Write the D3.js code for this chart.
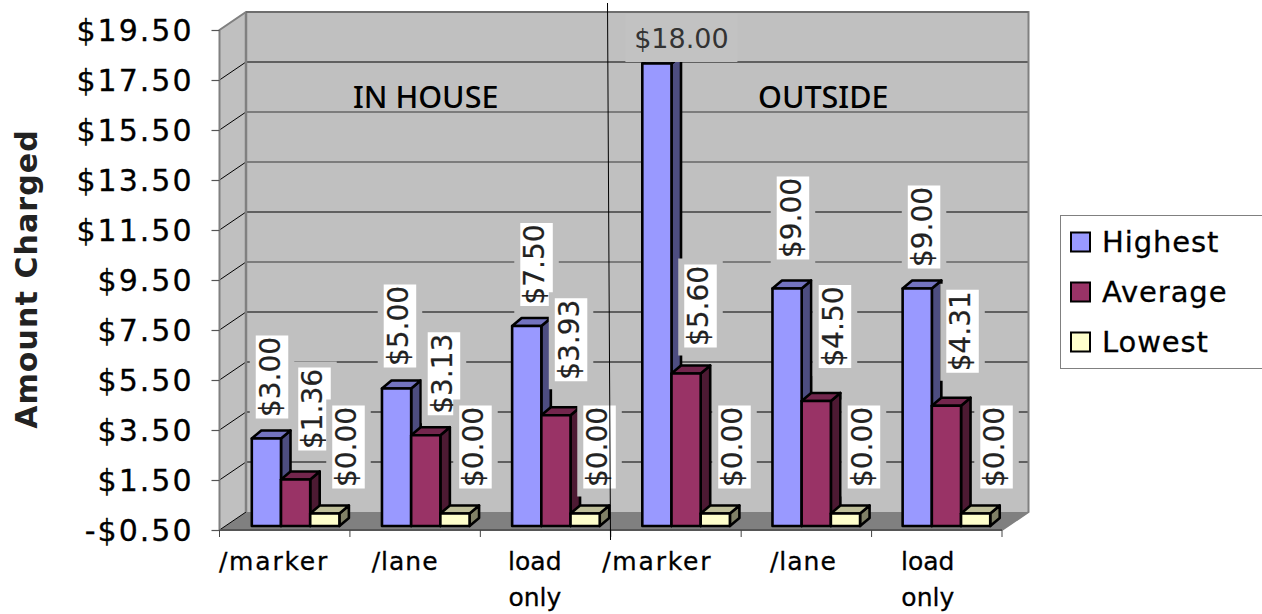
<!DOCTYPE html>
<html>
<head>
<meta charset="utf-8">
<script src="https://cdn.jsdelivr.net/npm/d3@7"></script>
<style>
  html, body { margin: 0; padding: 0; background: #fff; overflow: hidden; }
  svg { display: block; font-family: "DejaVu Sans", sans-serif; }
  .section-title { font-family: "Noto Sans", sans-serif; font-size: 30.5px; font-weight: 500; fill: #000; }
</style>
</head>
<body>
<svg id="chart" width="1262" height="614"></svg>
<script>
const categories = ['/marker', '/lane', 'load only', '/marker', '/lane', 'load only'];
const seriesNames = ['Highest', 'Average', 'Lowest'];
const highest = [3.00, 5.00, 7.50, 18.00, 9.00, 9.00];
const average = [1.36, 3.13, 3.93, 5.60, 4.50, 4.31];
const lowest = [0, 0, 0, 0, 0, 0];
const yTicks = [19.5, 17.5, 15.5, 13.5, 11.5, 9.5, 7.5, 5.5, 3.5, 1.5, -0.5];
const sections = ['IN HOUSE', 'OUTSIDE'];

// label placement per series: sideways shift from the bar centre, lift above the bar top
const labelShift = [
  [5.6, 3.4, 9.8, 24.5, 5.9, 6.8],
  [18.9, 18.2, 15.1, 14.4, 18.7, 16.1],
  [23.7, 20.5, 14.4, 19.2, 18.5, 20.9]
];
const labelLift = [
  [20, 21, 20, 0, 29, 20],
  [29, 20, 34, 26, 33, 33],
  [25, 25, 25, 25, 25, 25]
];
const categoryShift = [-10.7, -10, -10.7, -18.7, -3, -9];
const dimGridValues = [19.5, 15.5, 13.5, 9.5, -0.5];

const faces = {
  Highest: {front: '#9999ff', top: '#7373bf', side: '#4d4d80'},
  Average: {front: '#993366', top: '#73264d', side: '#4d1a33'},
  Lowest: {front: '#ffffcc', top: '#bfbf99', side: '#808066'}
};

const seriesValues = [highest, average, lowest];

// box depth of the whole plot, and of a single bar
const depth = {x: 26.5, y: 18};
const barDepth = {x: 9.5, y: 8};
const barInset = 4; // bars stand a little behind the front edge of the floor

const svg = d3.select('#chart');

const yScale = d3.scaleLinear().domain([-0.5, 19.5]).range([530, 30]);
const axisBand = d3.scaleBand().domain(d3.range(categories.length)).range([219.5, 1002]);
const groupBand = d3.scaleBand().domain(d3.range(categories.length)).range([219.5, 1000.5]);
const barBand = d3.scaleBand().domain(seriesNames).range([32.3, 32.3 + 87.6]);

const left = axisBand.range()[0];
const right = axisBand.range()[1];
const yBottom = yScale.range()[0];
const yTop = yScale.range()[1];
const polygon = pts => pts.map(p => p.join(',')).join(' ');

// walls and floor
const walls = svg.append('g');
walls.append('polygon')
    .attr('points', polygon([[left + depth.x, yTop - depth.y], [right + depth.x, yTop - depth.y],
      [right + depth.x, yBottom - depth.y], [left + depth.x, yBottom - depth.y]]))
    .attr('fill', '#c0c0c0');
walls.append('polygon')
    .attr('points', polygon([[left, yTop], [left + depth.x, yTop - depth.y],
      [left + depth.x, yBottom - depth.y], [left, yBottom]]))
    .attr('fill', '#c0c0c0');
walls.append('polygon')
    .attr('points', polygon([[left, yBottom], [left + depth.x, yBottom - depth.y],
      [right + depth.x, yBottom - depth.y], [right, yBottom]]))
    .attr('fill', '#808080');

// gridlines run along the back wall and bend forward over the side wall
const gridG = svg.append('g').attr('fill', 'none');
gridG.selectAll('.grid-back')
    .data(yTicks.filter(d => d > -0.5))
  .join('line')
    .attr('class', 'grid-back')
    .attr('x1', left + depth.x)
    .attr('x2', right + depth.x)
    .attr('y1', d => yScale(d) - depth.y)
    .attr('y2', d => yScale(d) - depth.y)
    .attr('stroke', d => dimGridValues.includes(d) ? '#666' : '#000')
    .attr('stroke-width', d => dimGridValues.includes(d) ? 1.6 : 1);
gridG.selectAll('.grid-side')
    .data(yTicks.filter(d => d < 19.5))
  .join('line')
    .attr('class', 'grid-side')
    .attr('x1', left)
    .attr('x2', left + depth.x)
    .attr('y1', d => yScale(d))
    .attr('y2', d => yScale(d) - depth.y)
    .attr('stroke', '#000')
    .attr('stroke-width', 1);

// wall outlines
gridG.append('polyline')
    .attr('points', polygon([[left, yBottom], [left, yTop], [left + depth.x, yTop - depth.y],
      [right + depth.x, yTop - depth.y], [right + depth.x, yBottom - depth.y], [right, yBottom]]))
    .attr('stroke', '#808080')
    .attr('stroke-width', 2);
gridG.append('line')
    .attr('x1', left + depth.x).attr('x2', left + depth.x)
    .attr('y1', yTop - depth.y).attr('y2', yBottom - depth.y)
    .attr('stroke', '#808080')
    .attr('stroke-width', 2.5);
gridG.append('line')
    .attr('x1', left + depth.x).attr('x2', right + depth.x)
    .attr('y1', yTop - depth.y).attr('y2', yTop - depth.y)
    .attr('stroke', '#6e6e6e')
    .attr('stroke-width', 2);

// value axis; plain hyphen on the negative tick
const format = d => d3.format('$.2f')(d).replace('\u2212', '-');
const yAxis = d3.axisLeft(yScale)
    .tickValues(yTicks)
    .tickFormat(format)
    .tickSize(8)
    .tickPadding(18);
const yAxisG = svg.append('g')
    .attr('transform', `translate(${left},0)`)
    .call(yAxis);
yAxisG.select('.domain').remove();
yAxisG.selectAll('line').attr('stroke', '#555').attr('stroke-width', 1.2);
yAxisG.selectAll('text')
    .attr('font-family', '"DejaVu Sans", sans-serif')
    .attr('font-size', 30)
    .attr('letter-spacing', 2)
    .attr('dy', '0.36em')
    .attr('fill', '#000')
    .attr('stroke', '#000')
    .attr('stroke-width', 0.3);

// front edge of the floor with ticks between the categories
svg.append('line')
    .attr('x1', left).attr('x2', right)
    .attr('y1', yBottom).attr('y2', yBottom)
    .attr('stroke', '#555')
    .attr('stroke-width', 2);
svg.selectAll('.cat-tick')
    .data(d3.range(categories.length + 1))
  .join('line')
    .attr('class', 'cat-tick')
    .attr('x1', d => left + d * axisBand.step())
    .attr('x2', d => left + d * axisBand.step())
    .attr('y1', yBottom)
    .attr('y2', yBottom + 7)
    .attr('stroke', '#444')
    .attr('stroke-width', 1);

// category names, wrapped on spaces
const catLabels = svg.selectAll('.cat-label')
    .data(categories)
  .join('text')
    .attr('class', 'cat-label')
    .attr('font-size', 25)
    .attr('fill', '#000')
    .attr('stroke', '#000')
    .attr('stroke-width', 0.3)
    .attr('text-anchor', 'middle')
    .attr('letter-spacing', d => d === '/marker' ? 1.8 : (d === '/lane' ? 1 : 0));
catLabels.selectAll('tspan')
    .data((d, i) => d.split(' ').map(word => ({word, i})))
  .join('tspan')
    .attr('x', d => axisBand(d.i) + axisBand.bandwidth() / 2 + categoryShift[d.i])
    .attr('y', (d, k) => 570 + k * 36)
    .text(d => d.word);

// flatten to one row per bar, group by group
const bars = [];
categories.forEach((c, i) => {
  seriesNames.forEach((name, j) => {
    bars.push({i, j, name, value: seriesValues[j][i]});
  });
});

const barX = d => groupBand(d.i) + barBand(d.name);
const barTop = d => yScale(d.value) - barInset;
const barBase = yBottom - barInset;

const barG = svg.selectAll('.bar')
    .data(bars)
  .join('g')
    .attr('class', 'bar')
    .attr('stroke', '#000')
    .attr('stroke-width', 2.6)
    .attr('stroke-linejoin', 'round');

barG.append('polygon')
    .attr('fill', d => faces[d.name].side)
    .attr('points', d => {
      const x = barX(d) + barBand.bandwidth();
      return polygon([[x, barTop(d)], [x + barDepth.x, barTop(d) - barDepth.y],
        [x + barDepth.x, barBase - barDepth.y], [x, barBase]]);
    });
barG.append('polygon')
    .attr('fill', d => faces[d.name].top)
    .attr('points', d => {
      const x = barX(d);
      const w = barBand.bandwidth();
      return polygon([[x, barTop(d)], [x + barDepth.x, barTop(d) - barDepth.y],
        [x + w + barDepth.x, barTop(d) - barDepth.y], [x + w, barTop(d)]]);
    });
barG.append('rect')
    .attr('x', barX)
    .attr('y', barTop)
    .attr('width', barBand.bandwidth())
    .attr('height', d => barBase - barTop(d))
    .attr('fill', d => faces[d.name].front);

// value labels: a wall-coloured clearing with a white plate, text turned sideways.
// The tallest bar has no room above it for that, so its label lies flat.
const boxW = 32.5;
const boxH = 83;
const tallest = d3.max(highest);

bars.forEach(d => {
  const g = svg.append('g').attr('class', 'value-label');
  const cx = barX(d) + barBand.bandwidth() / 2 + labelShift[d.j][d.i];
  if (d.value === tallest) {
    g.append('rect')
        .attr('x', cx - 56).attr('width', 112)
        .attr('y', barTop(d) - 49.5).attr('height', 48)
        .attr('fill', '#c2c2c2');
    g.append('text')
        .attr('x', cx).attr('y', barTop(d) - 15.5)
        .attr('text-anchor', 'middle')
        .attr('font-size', 27)
        .attr('fill', '#333')
        .text(format(d.value));
    return;
  }
  const boxBottom = barTop(d) - labelLift[d.j][d.i];
  const cy = boxBottom - boxH / 2;
  g.append('rect')
      .attr('x', cx - boxW / 2 - 6).attr('width', boxW + 12)
      .attr('y', boxBottom - boxH - 6).attr('height', boxH + 14)
      .attr('fill', '#c0c0c0');
  g.append('rect')
      .attr('x', cx - boxW / 2).attr('width', boxW)
      .attr('y', boxBottom - boxH).attr('height', boxH)
      .attr('fill', '#fff');
  g.append('text')
      .attr('transform', `translate(${cx},${cy}) rotate(-90)`)
      .attr('text-anchor', 'middle')
      .attr('dy', '0.27em')
      .attr('font-size', 28)
      .attr('fill', '#222')
      .attr('stroke', '#222')
      .attr('stroke-width', 0.2)
      .text(format(d.value));
});

// section headings and the divider between them
svg.selectAll('.section-title')
    .data(sections)
  .join('text')
    .attr('class', 'section-title')
    .attr('x', (d, i) => [353, 758][i])
    .attr('y', 108)
    .text(d => d);

svg.append('line')
    .attr('x1', 607.5).attr('y1', 3)
    .attr('x2', 610.5).attr('y2', 540)
    .attr('stroke', '#000')
    .attr('stroke-width', 1);

// axis title
svg.append('text')
    .attr('transform', 'translate(37,279) rotate(-90)')
    .attr('text-anchor', 'middle')
    .attr('font-size', 30)
    .attr('letter-spacing', 1.1)
    .attr('font-weight', 700)
    .attr('fill', '#222')
    .text('Amount Charged');

// legend, running off the right edge
const legend = svg.append('g');
legend.append('rect')
    .attr('x', 1060.5).attr('y', 215.5)
    .attr('width', 220).attr('height', 153)
    .attr('fill', '#fff')
    .attr('stroke', '#808080')
    .attr('stroke-width', 1);
const legendY = d3.scalePoint().domain(seriesNames).range([242, 342]);
const legendRows = legend.selectAll('.legend-row')
    .data(seriesNames)
  .join('g')
    .attr('class', 'legend-row')
    .attr('transform', d => `translate(0,${legendY(d)})`);
legendRows.append('rect')
    .attr('x', 1071).attr('y', -9.5)
    .attr('width', 19).attr('height', 19)
    .attr('fill', d => faces[d].front)
    .attr('stroke', '#000')
    .attr('stroke-width', 2);
legendRows.append('text')
    .attr('x', 1102).attr('y', 0)
    .attr('dy', '0.36em')
    .attr('font-size', 29)
    .attr('letter-spacing', 0.9)
    .attr('fill', '#000')
    .attr('stroke', '#000')
    .attr('stroke-width', 0.3)
    .text(d => d);
</script>
</body>
</html>
